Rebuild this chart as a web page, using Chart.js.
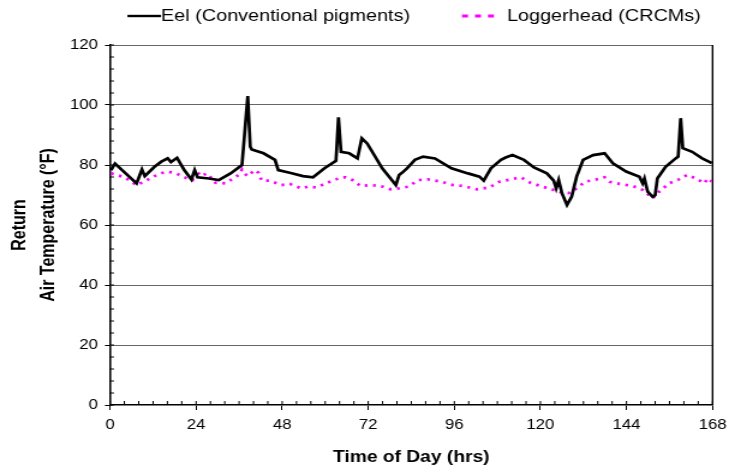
<!DOCTYPE html>
<html><head><meta charset="utf-8">
<script src="https://cdn.jsdelivr.net/npm/chart.js@4.4.0/dist/chart.umd.min.js"></script>
<style>
html,body{margin:0;padding:0;background:#fff;overflow:hidden}
#wrap{position:absolute;left:0;top:0;width:612px;height:473px;transform:scaleX(1.20098);transform-origin:0 0}
</style></head><body>
<div id="wrap"><canvas id="c"></canvas></div>
<script>
const seriesNames = ['Eel (Conventional pigments)', 'Loggerhead (CRCMs)'];
const xTickValues = [0, 24, 48, 72, 96, 120, 144, 168];
const yTickValues = [0, 20, 40, 60, 80, 100, 120];
const xTitle = 'Time of Day (hrs)';
const yTitle = ['Return', 'Air Temperature (\u00B0F)'];

const eelHours = [0.3,1.4,7.4,8.9,9.7,12.4,14.3,16.1,17.0,18.7,20.7,22.7,23.6,24.4,27.6,30.3,33.6,36.8,38.4,39.1,39.5,42.8,46.0,46.9,50.1,53.8,56.6,59.8,63.0,63.7,64.4,66.7,69.0,70.2,71.7,75.9,79.7,80.6,81.4,82.8,85.0,87.3,90.6,95.2,99.8,103.0,104.2,106.2,109.0,110.3,112.2,115.4,118.2,121.8,123.7,124.4,125.1,126.0,127.4,128.7,130.1,131.9,134.7,137.9,140.2,143.9,147.6,148.5,149.0,149.9,151.3,152.0,152.6,154.9,157.7,158.4,159.1,159.7,162.3,165.1,167.8];
const eelTemps = [78.3,80.5,73.9,78.5,76.3,79.4,81.1,82.2,81.0,82.4,78.3,75.2,78.3,75.9,75.5,75.0,77.2,80.0,103.0,86.1,85.2,83.9,81.7,78.3,77.4,76.3,75.9,78.9,81.4,95.9,84.4,83.9,82.2,88.9,87.2,78.9,73.3,76.7,77.4,78.9,81.7,82.8,82.2,78.9,77.2,76.1,74.8,78.9,81.7,82.5,83.3,81.7,79.2,77.2,74.8,72.2,75.0,70.6,66.7,69.4,76.1,81.7,83.3,83.9,80.6,77.8,76.1,73.9,75.5,71.1,69.4,70.0,75.5,79.4,82.2,82.8,95.6,85.6,84.4,82.2,80.6];

const logHours = [0.3,4.1,7.4,10.1,12.4,14.7,16.1,18.4,20.7,23.0,23.9,25.3,27.1,29.4,32.2,35.9,36.8,38.2,40.5,41.4,42.3,44.6,47.8,50.1,53.3,55.2,57.5,60.2,62.5,64.4,65.7,67.6,69.9,73.1,75.9,78.2,80.5,83.2,86.0,88.7,92.4,95.6,98.4,100.2,102.3,105.7,108.5,111.7,114.5,117.2,120.5,123.7,126.0,127.8,130.1,132.4,135.6,137.9,139.3,142.1,145.7,148.5,151.3,153.1,155.9,158.6,160.9,163.4,165.7,166.6,167.8];
const logTemps = [77.2,75.9,73.3,74.8,76.3,77.4,77.8,77.2,75.9,75.0,78.3,76.3,77.2,74.1,73.9,76.7,78.5,76.3,78.3,77.4,74.8,74.8,73.3,73.7,72.2,72.8,72.5,73.9,75.0,75.8,75.9,75.0,73.0,73.3,72.8,71.9,72.2,72.8,75.0,75.2,74.4,73.3,73.0,72.5,71.9,72.5,74.4,75.2,75.9,74.1,72.8,71.7,70.8,70.6,72.2,74.4,75.2,75.9,74.4,73.7,73.0,71.7,68.9,71.1,73.9,75.2,76.7,75.5,73.9,75.5,74.5];

const S = 735 / 612;
const FONT = '"Liberation Sans", Arial, Helvetica, sans-serif';
const xMinorStep = 4, yMinorStep = 4;

const minorTicks = {
  id: 'minorTicks',
  beforeDatasetsDraw(chart) {
    const { ctx, chartArea: a, scales: { x, y } } = chart;
    ctx.save();
    ctx.strokeStyle = '#000';
    ctx.lineWidth = 1;
    ctx.beginPath();
    for (let v = x.min; v <= x.max; v += xMinorStep) {
      const px = x.getPixelForValue(v);
      ctx.moveTo(px, a.bottom); ctx.lineTo(px, a.bottom - 4);
    }
    for (let v = y.min; v <= y.max; v += yMinorStep) {
      const py = y.getPixelForValue(v);
      ctx.moveTo(a.left, py); ctx.lineTo(a.left + 4 / S, py);
    }
    ctx.stroke();
    ctx.lineWidth = 1.4;
    ctx.beginPath();
    ctx.moveTo(a.right, a.top); ctx.lineTo(a.right, a.bottom);
    ctx.stroke();
    ctx.restore();
  }
};

const customLegend = {
  id: 'customLegend',
  afterDraw(chart) {
    const ctx = chart.ctx;
    const ds = chart.data.datasets;
    ctx.save();
    ctx.font = '16.5px ' + FONT;
    ctx.textBaseline = 'middle';
    ctx.fillStyle = '#000';
    const y = 16;
    const eelEnd = 410 / S;
    const w0 = ctx.measureText(ds[0].label).width;
    const x0 = eelEnd - w0;
    ctx.strokeStyle = ds[0].borderColor;
    ctx.lineWidth = 2.4;
    ctx.beginPath(); ctx.moveTo(x0 - 28, y); ctx.lineTo(x0, y); ctx.stroke();
    ctx.fillText(ds[0].label, x0, y);
    ctx.strokeStyle = ds[1].borderColor;
    ctx.lineWidth = 3;
    ctx.setLineDash([5, 5.8]);
    ctx.beginPath(); ctx.moveTo(462 / S, y); ctx.lineTo(495 / S, y); ctx.stroke();
    ctx.setLineDash([]);
    ctx.fillText(ds[1].label, 507 / S, y);
    ctx.restore();
  }
};

new Chart(document.getElementById('c'), {
  type: 'line',
  data: {
    datasets: [
      {
        label: seriesNames[0],
        data: eelHours.map((h, i) => ({ x: h, y: eelTemps[i] })),
        borderColor: '#000000',
        borderWidth: 2.7,
        pointRadius: 0,
        tension: 0,
        fill: false
      },
      {
        label: seriesNames[1],
        data: logHours.map((h, i) => ({ x: h, y: logTemps[i] })),
        borderColor: '#FF00FF',
        borderWidth: 2.7,
        borderDash: [2.3, 4.6],
        borderCapStyle: 'butt',
        pointRadius: 0,
        tension: 0,
        fill: false
      }
    ]
  },
  options: {
    responsive: true,
    maintainAspectRatio: false,
    animation: false,
    devicePixelRatio: 1,
    layout: { padding: { top: 45, right: 612 - 719 / S, left: 0, bottom: 0 } },
    plugins: { legend: { display: false }, tooltip: { enabled: false } },
    scales: {
      x: {
        type: 'linear',
        min: 0, max: 168,
        afterBuildTicks: s => { s.ticks = xTickValues.map(v => ({ value: v })); },
        afterFit: s => { s.height = 68; },
        ticks: { color: '#000', font: { family: FONT, size: 14 }, padding: 7, maxRotation: 0, autoSkip: false, callback: v => String(v) },
        grid: { display: true, drawOnChartArea: false, drawTicks: true, tickLength: 5, color: '#000', tickColor: '#000', lineWidth: 1 },
        border: { display: true, color: '#000', width: 1.6 },
        title: { display: true, text: xTitle, color: '#000', font: { family: FONT, size: 16, weight: 'bold' }, padding: { top: 0, bottom: 5.5 } }
      },
      y: {
        min: 0, max: 120,
        afterBuildTicks: s => { s.ticks = yTickValues.map(v => ({ value: v })); },
        afterFit: s => { s.width = 110 / S; },
        ticks: { color: '#000', font: { family: FONT, size: 14 }, padding: 5.8, autoSkip: false, callback: v => String(v) },
        grid: { color: c => (c.tick && c.tick.value === 0) ? 'rgba(0,0,0,0)' : '#666', tickColor: '#000', tickLength: 5 / S, lineWidth: 1 },
        border: { display: true, color: '#000', width: 1.6 },
        title: { display: true, text: yTitle, color: '#000', font: { family: FONT, size: 16, weight: 'bold', lineHeight: 1.5 }, padding: { top: 5, bottom: 0 } }
      }
    }
  },
  plugins: [minorTicks, customLegend]
});
</script>
</body></html>
